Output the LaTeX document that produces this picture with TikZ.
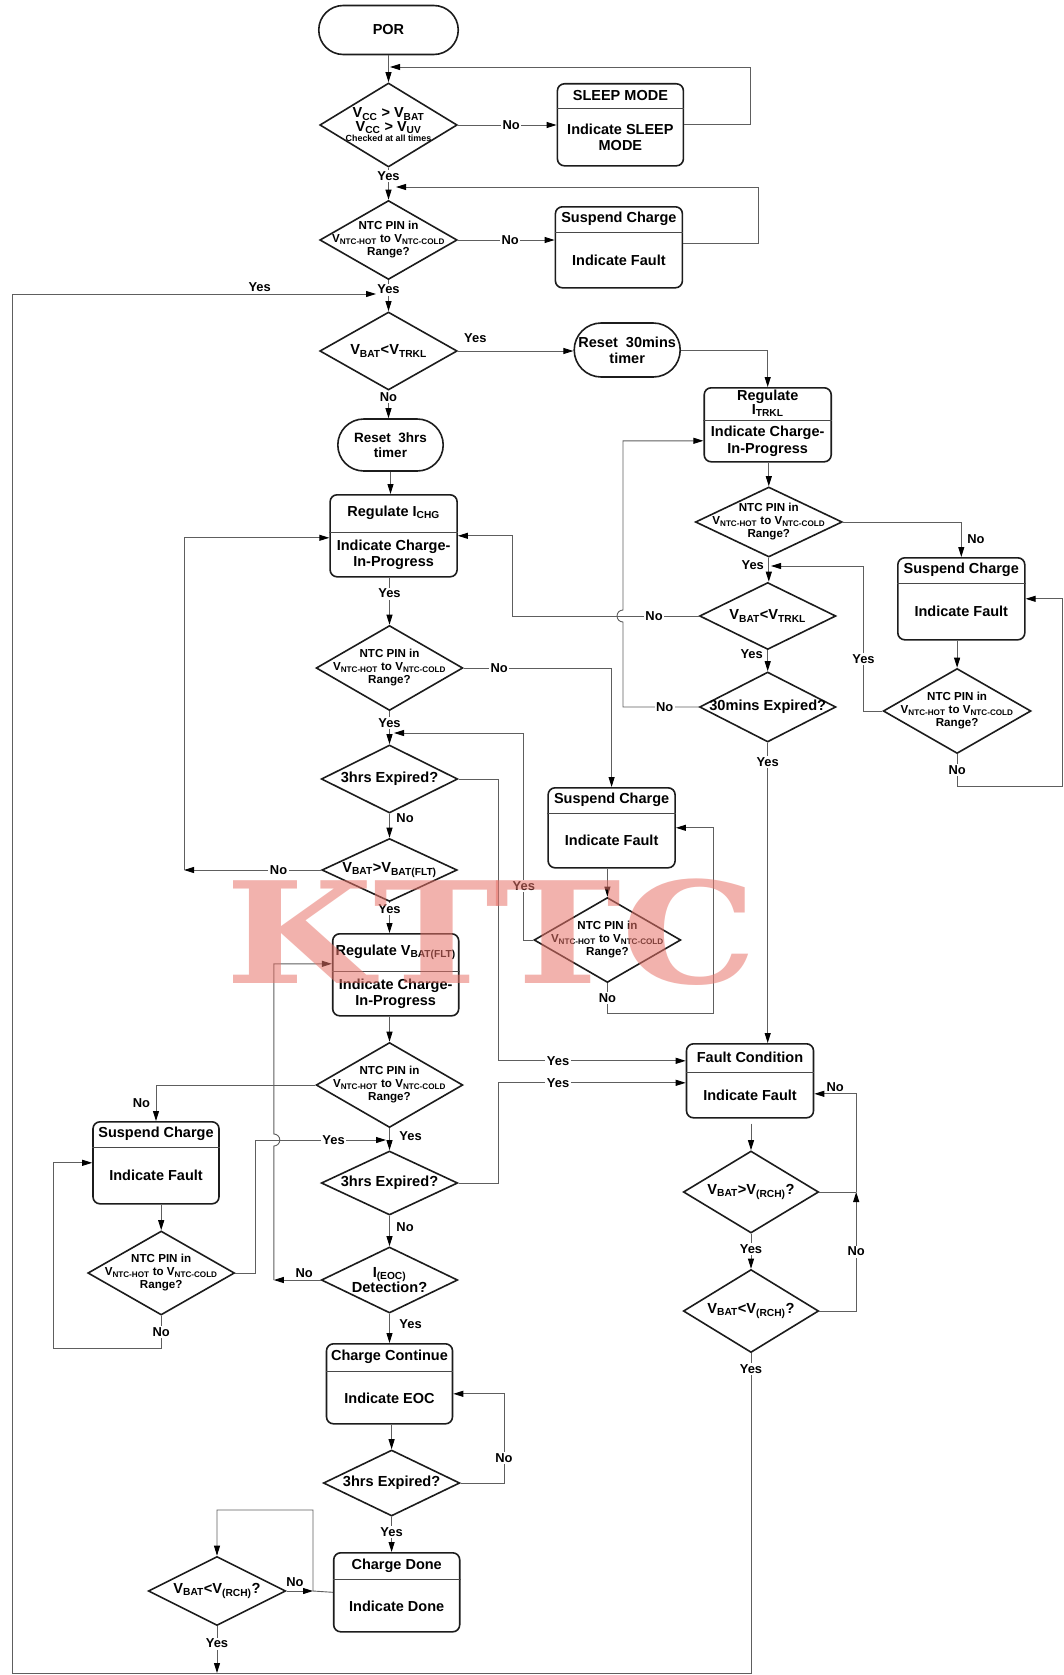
\documentclass[tikz,border=0pt]{standalone}
\usepackage{fontspec}
\setmainfont{Liberation Sans}
\newfontfamily\markfont{DejaVu Serif}
\usetikzlibrary{
	positioning,
	arrows.meta,
	shapes.geometric,
	shapes.misc,
	calc
}
\definecolor{boxcolor}{HTML}{1C1C1C}
\definecolor{linecolor}{HTML}{5E5E5E}
\definecolor{markcolor}{HTML}{E8746A}
\tikzset{
	termnode/.style={
		draw=boxcolor,
		rounded rectangle,
		line width=1.6pt,
		inner sep=0pt,
		align=center,
		font=\bfseries\fontsize{14.5}{16}\selectfont
	},
	boxnode/.style={
		draw=boxcolor,
		rounded corners=7pt,
		line width=1.6pt,
		inner sep=0pt
	},
	boxtext/.style={
		align=center,
		inner sep=0pt,
		font=\bfseries\fontsize{14.5}{16.5}\selectfont
	},
	decnode/.style={
		draw=boxcolor,
		diamond,
		line width=1.6pt,
		inner sep=0pt
	},
	dectext/.style={
		align=center,
		inner sep=0pt,
		font=\bfseries\fontsize{11.6}{13}\selectfont
	},
	bigtext/.style={
		font=\bfseries\fontsize{14.6}{15.5}\selectfont
	},
	divline/.style={
		draw=boxcolor!80,
		line width=0.8pt
	},
	link/.style={
		draw=linecolor,
		line width=0.9pt
	},
	arrow/.style={
		link,
		-{Triangle[length=10pt, width=6pt, color=black]}
	},
	lbl/.style={
		fill=white,
		inner sep=1.5pt,
		text=black,
		font=\bfseries\fontsize{12.9}{13}\selectfont
	}
}
% name, x, top, width, height, divider depth, upper text, lower text
\newcommand{\splitbox}[9][]{%
	\node[boxnode, minimum width=#5pt, minimum height=#6pt, anchor=north] (#2) at (#3,#4) {};
	\coordinate (#2-dl) at ([yshift=-#7pt]#2.north west);
	\coordinate (#2-dr) at ([yshift=-#7pt]#2.north east);
	\coordinate (#2-dm) at ([yshift=-#7pt]#2.north);
	\draw[divline] (#2-dl) -- (#2-dr);
	\node[boxtext, #1] (#2-up) at ($(#2.north)!0.5!(#2-dm)$) {#8};
	\node[boxtext] (#2-lo) at ($(#2-dm)!0.5!(#2.south)$) {#9};
}
% name, x, y, width, height, text
\newcommand{\decision}[7][]{%
	\node[decnode, minimum width=#5pt, minimum height=#6pt] (#2) at (#3,#4) {};
	\node[dectext, #1] (#2-txt) at (#2.center) {#7};
}
\newcommand{\ntctext}{NTC PIN in\\V\textsubscript{NTC-HOT} to V\textsubscript{NTC-COLD}\\Range?}

\begin{document}
\begin{tikzpicture}[x=1pt, y=-1pt]
	
	\fill[white] (0,0) rectangle (1064,1675);
	
	% Main column
	\node[termnode, minimum width=139.5pt, minimum height=49pt] (por) at (388.5,30) {POR};
	\decision[font=\bfseries\fontsize{14.5}{13.5}\selectfont]{vcc}{388.5}{125}{137.4}{84}
	{V\textsubscript{CC} > V\textsubscript{BAT}\\V\textsubscript{CC} > V\textsubscript{UV}\\[-3pt]
		{\fontsize{8.9}{9}\selectfont Checked at all times}}
	\decision{ntc1}{388.5}{240}{137.4}{79}{\ntctext}
	\decision[bigtext]{trkl1}{388.5}{351}{137.4}{78}{V\textsubscript{BAT}<V\textsubscript{TRKL}}
	\node[termnode, minimum width=105.4pt, minimum height=52pt,
	font=\bfseries\fontsize{13.5}{15.5}\selectfont] (rst3h) at (390.5,445) {Reset~ 3hrs\\timer};
	\splitbox{regchg}{393.6}{494}{127}{82}{38}{Regulate I\textsubscript{CHG}}{Indicate Charge-\\In-Progress}
	\decision{ntc4}{389.5}{668}{146.7}{85}{\ntctext}
	\decision[bigtext]{exp3a}{389.5}{779}{136.4}{68}{3hrs Expired?}
	\decision[bigtext]{flt}{389.5}{870}{135.3}{63}{V\textsubscript{BAT}>V\textsubscript{BAT(FLT)}}
	\splitbox{regflt}{395.7}{933}{126}{82}{38}{Regulate V\textsubscript{BAT(FLT)}}{Indicate Charge-\\In-Progress}
	\decision{ntc6}{389.5}{1085}{146.7}{85}{\ntctext}
	\decision[bigtext]{exp3b}{389.5}{1183}{136.4}{64}{3hrs Expired?}
	\decision[bigtext]{eoc}{389.5}{1280}{136.4}{66}{I\textsubscript{(EOC)}\\Detection?}
	\splitbox{cont}{389.5}{1343}{126}{80}{28}{Charge Continue}{Indicate EOC}
	\decision[bigtext]{exp3c}{391.6}{1483}{136.4}{66}{3hrs Expired?}
	\splitbox{done}{396.7}{1552}{126}{79}{27}{Charge Done}{Indicate Done}
	\decision[bigtext]{rch1}{217}{1591}{137.4}{69}{V\textsubscript{BAT}<V\textsubscript{(RCH)}?}
	
	% Right side
	\splitbox{sleep}{620.4}{83}{126}{82}{25}{SLEEP MODE}{Indicate SLEEP\\MODE}
	\splitbox{susp1}{618.9}{206}{127}{81}{26}{Suspend Charge}{Indicate Fault}
	\node[termnode, minimum width=106pt, minimum height=54pt] (rst30) at (627.2,350) {Reset~ 30mins\\timer};
	\splitbox[font=\bfseries\fontsize{14.5}{14}\selectfont]{regtrkl}{767.7}{387}{127}{74}{33}{Regulate\\I\textsubscript{TRKL}}{Indicate Charge-\\In-Progress}
	\decision{ntc2}{768.8}{522}{146.8}{70}{\ntctext}
	\decision[bigtext]{trkl2}{767.7}{616}{136.3}{67}{V\textsubscript{BAT}<V\textsubscript{TRKL}}
	\decision[bigtext]{exp30}{767.7}{707}{136.3}{70}{30mins Expired?}
	\splitbox{susp2}{961.3}{557}{127}{82}{26}{Suspend Charge}{Indicate Fault}
	\decision{ntc3}{957.1}{711}{147.8}{85}{\ntctext}
	\splitbox{susp3}{611.6}{787}{127}{80}{26}{Suspend Charge}{Indicate Fault}
	\decision{ntc5}{607.4}{940}{146.8}{85}{\ntctext}
	\splitbox{fault}{750}{1043}{127}{74}{29}{Fault Condition}{Indicate Fault}
	\decision[bigtext]{rchhi}{751}{1192}{135.3}{82}{V\textsubscript{BAT}>V\textsubscript{(RCH)}?}
	\decision[bigtext]{rchlo}{751}{1311}{135.3}{83}{V\textsubscript{BAT}<V\textsubscript{(RCH)}?}
	
	% Left side
	\splitbox{susp4}{156}{1121}{126}{82}{26}{Suspend Charge}{Indicate Fault}
	\decision{ntc7}{161.2}{1273}{146.7}{84}{\ntctext}
	
	% Bend points
	\coordinate (j1) at (390,67);
	\coordinate (r1) at (750,67);
	\coordinate (j2) at (396,187);
	\coordinate (r2) at (758.3,187);
	\coordinate (j3) at (376,294);
	\coordinate (c1) at (751,1673);
	\coordinate (c2) at (12.4,1673);
	\coordinate (r15) at (512.5,616);
	\coordinate (hopA) at (623,616);
	\coordinate (r20) at (1062.5,786);
	\coordinate (r21) at (863.5,711);
	\coordinate (j21) at (771,566);
	\coordinate (r24) at (523.8,940);
	\coordinate (j24) at (394,733);
	\coordinate (r25) at (498,779);
	\coordinate (r27) at (184,870);
	\coordinate (r30) at (713.6,1013);
	\coordinate (r33) at (255,1273);
	\coordinate (j33) at (386,1140);
	\coordinate (r34) at (498,1183);
	\coordinate (hopB) at (273.8,1140);
	\coordinate (r37) at (53.7,1348);
	\coordinate (r41) at (504,1483);
	\coordinate (r43a) at (313,1591);
	\coordinate (r43b) at (313,1510);
	\coordinate (r47) at (856.2,1192);
	\coordinate (b17) at (217,1673);
	
	% Arrows top
	\draw[arrow] (por.south) -- (por.south |- vcc.north);
	\draw[arrow] (vcc.east) -- node[lbl, pos=0.54]{No} (vcc.east -| sleep.west);
	\draw[arrow] (sleep.east) -| (r1) -- (j1);
	\draw[arrow] (vcc.south) -- node[lbl, pos=0.27]{Yes} (vcc.south |- ntc1.north);
	\draw[arrow] (ntc1.east) -- node[lbl, pos=0.54]{No} (ntc1.east -| susp1.west);
	\draw[arrow] ([yshift=4pt]susp1.east) -| (r2) -- (j2);
	\draw[arrow] (ntc1.south) -- node[lbl, pos=0.3]{Yes} (ntc1.south |- trkl1.north);
	\draw[arrow] (trkl1.east) -- node[lbl, above, yshift=6pt, pos=0.15]{Yes} (trkl1.east -| rst30.west);
	\draw[arrow] (trkl1.south) -- node[lbl, pos=0.24]{No} (trkl1.south |- rst3h.north);
	\draw[arrow] (rst30.east) -| (regtrkl.north);
	\draw[arrow] (rst3h.south) -- (rst3h.south |- regchg.north);
	
	% Trickle branch
	\draw[arrow] (ntc2.north |- regtrkl.south) -- (ntc2.north);
	\draw[arrow] (ntc2.east) -| node[lbl, pos=0.75, right, xshift=4pt]{No} (susp2.north);
	\draw[arrow] (ntc2.south) -- node[lbl, pos=0.3, left, xshift=-3pt]{Yes} (ntc2.south |- trkl2.north);
	\draw[arrow] (trkl2.west) -- node[lbl, pos=0.24]{No} (r15) |- (regchg.east);
	\draw[arrow] (trkl2.south) -- node[lbl, pos=0.2, left, xshift=-3pt]{Yes} (trkl2.south |- exp30.north);
	\draw[arrow] (exp30.west) -- node[lbl, pos=0.45]{No} (exp30.west -| hopA)
	-- ([yshift=-6pt]hopA) arc[start angle=270, end angle=90, radius=6pt]
	|- ([yshift=-16pt]regtrkl.west);
	\draw[arrow] (exp30.south) -- node[lbl, pos=0.063]{Yes} (exp30.south |- fault.north);
	\draw[arrow] (ntc3.north |- susp2.south) -- (ntc3.north);
	\draw[arrow] (ntc3.south) |- node[lbl, pos=0.25]{No} (r20) |- (susp2.east);
	\draw[arrow] (ntc3.west) -- (ntc3.west -| r21) |- node[lbl, pos=0.18]{Yes} (j21);
	
	% Fast charge
	\draw[arrow] (ntc4.north |- regchg.south) -- node[lbl, pos=0.34]{Yes} (ntc4.north);
	\draw[arrow] (ntc4.east) -| node[lbl, pos=0.12]{No} (susp3.north);
	\draw[arrow] (ntc4.south) -- node[lbl, pos=0.35]{Yes} (ntc4.south |- exp3a.north);
	\draw[arrow] (ntc5.west) -- (ntc5.west -| r24) |- node[lbl, pos=0.13]{Yes} (j24);
	\draw[arrow] (exp3a.east) -- (exp3a.east -| r25) |- node[lbl, pos=0.66]{Yes} ([yshift=20pt]fault.west);
	\draw[arrow] (exp3a.south) -- node[lbl, pos=0.2, right, xshift=5pt]{No} (exp3a.south |- flt.north);
	\draw[arrow] (flt.west) -- node[lbl, pos=0.31]{No} (flt.west -| r27);
	\draw[arrow] (flt.west -| r27) |- ([yshift=-2pt]regchg.west);
	\draw[arrow] (flt.south) -- node[lbl, pos=0.23]{Yes} (flt.south |- regflt.north);
	\draw[arrow] (ntc5.north |- susp3.south) -- (ntc5.north);
	\draw[arrow] (ntc5.south) |- node[lbl, pos=0.25]{No} (r30) |- (susp3.east);
	
	% Float charge
	\draw[arrow] (ntc6.north |- regflt.south) -- (ntc6.north);
	\draw[arrow] (ntc6.west) -| node[lbl, pos=0.75, left, xshift=-4pt]{No} (susp4.north);
	\draw[arrow] (ntc6.south) -- node[lbl, pos=0.35, right, xshift=8pt]{Yes} (ntc6.south |- exp3b.north);
	\draw[arrow] (ntc7.east) -- (ntc7.east -| r33) |- node[lbl, pos=0.8]{Yes} (j33);
	\draw[arrow] (exp3b.east) -- (exp3b.east -| r34) |- node[lbl, pos=0.66]{Yes} ([yshift=-2pt]fault.west);
	\draw[arrow] (exp3b.south) -- node[lbl, pos=0.37, right, xshift=5pt]{No} (exp3b.south |- eoc.north);
	\draw[arrow] (ntc7.north |- susp4.south) -- (ntc7.north);
	\draw[arrow] (ntc7.south) |- node[lbl, pos=0.25]{No} (r37) |- (susp4.west);
	\draw[arrow] (eoc.west) -- node[lbl, pos=0.35, above, fill=none]{No} (eoc.west -| hopB);
	\draw[arrow] (eoc.west -| hopB) -- ([yshift=-6pt]hopB) arc[start angle=-90, end angle=90, radius=6pt]
	|- ([yshift=11pt]regflt.west);
	
	% End of charge
	\draw[arrow] (eoc.south) -- node[lbl, pos=0.37, right, xshift=8pt]{Yes} (eoc.south |- cont.north);
	\draw[arrow] (exp3c.north |- cont.south) -- (exp3c.north);
	\draw[arrow] (exp3c.east) -- (exp3c.east -| r41) |- node[lbl, pos=0.14]{No} ([yshift=-10pt]cont.east);
	\draw[arrow] (exp3c.south) -- node[lbl, pos=0.44]{Yes} (exp3c.south |- done.north);
	\draw[arrow] (done.west) -- (r43a) -- (r43b) -| (rch1.north);
	\draw[arrow] (rch1.east) -- node[lbl, pos=0.32, above, yshift=2pt, fill=none]{No} (r43a);
	\draw[arrow] (rch1.south) -- node[lbl, pos=0.37]{Yes} (b17);
	
	% Fault recovery
	\draw[arrow] ([yshift=-5pt]rchhi.north |- fault.south) -- (rchhi.north);
	\draw[arrow] (rchhi.south) -- node[lbl, pos=0.43]{Yes} (rchhi.south |- rchlo.north);
	\draw[link] (rchhi.east) -- (r47);
	\draw[arrow] (rchlo.east) -| node[lbl, pos=0.75]{No} (r47);
	\draw[arrow] (r47) |- node[lbl, pos=0.75, above, fill=none]{No} ([yshift=-13pt]fault.east);
	
	% Restart loop
	\draw[arrow] (rchlo.south) -- node[lbl, pos=0.05]{Yes} (c1) -- (c2)
	|- node[lbl, pos=0.84, above, fill=none]{Yes} (j3);
	
	% Watermark
	\begin{scope}[shift={(491,932)}, xscale=1.21]
		\node[transform shape, inner sep=0pt, text=markcolor, opacity=0.55,
		font=\markfont\bfseries\fontsize{141}{141}\selectfont] (mark) at (0,0) {KTTC};
	\end{scope}
	
\end{tikzpicture}
\end{document}
